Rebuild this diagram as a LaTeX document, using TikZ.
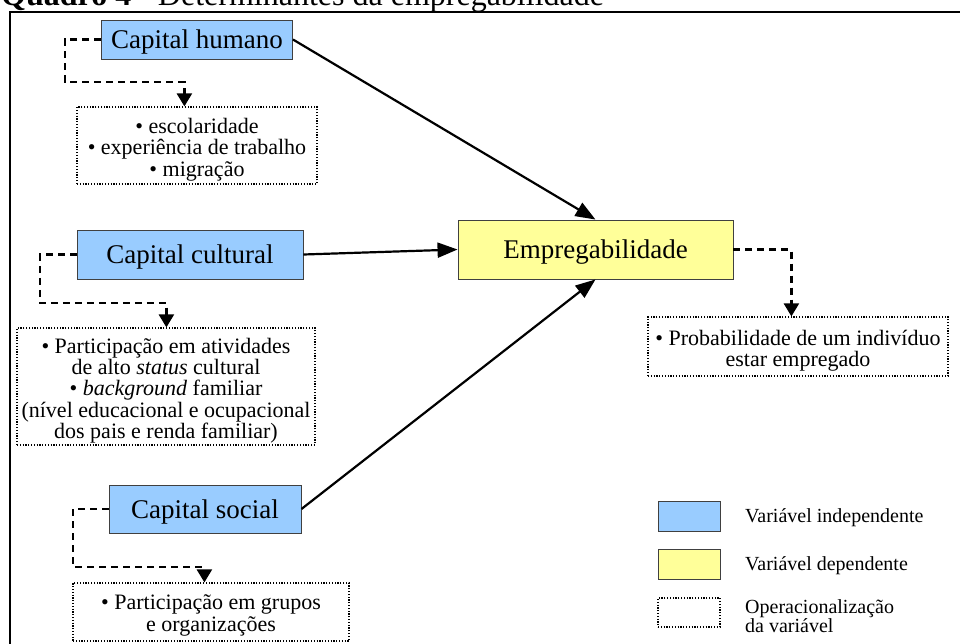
\documentclass[tikz,border=0pt]{standalone}
\usepackage{fontspec}
\setmainfont{Liberation Serif}
\usetikzlibrary{arrows.meta,calc}
\definecolor{bluebox}{HTML}{99CCFF}
\definecolor{yellowbox}{HTML}{FFFF99}
\definecolor{boxline}{HTML}{404040}
\begin{document}
\begin{tikzpicture}[x=1pt,y=-1pt,
  varbox/.style={draw=boxline,line width=0.9pt,inner sep=0pt,text depth=0pt,font=\fontsize{27}{32}\selectfont},
  indep/.style={varbox,fill=bluebox},
  dep/.style={varbox,fill=yellowbox},
  opbox/.style={draw=black,line width=1.2pt,dash pattern=on 1.2pt off 1.6pt,inner sep=0pt},
  optext/.style={inner sep=0pt,align=center,font=\fontsize{22}{21.4}\selectfont},
  cause/.style={line width=2.2pt,-{Triangle[length=20pt,width=15pt]}},
  oper/.style={line width=2.4pt,dash pattern=on 7pt off 5pt,-{Triangle[length=13pt,width=15pt]}},
  legtext/.style={anchor=west,inner sep=0pt,align=left,font=\fontsize{20}{19}\selectfont}]
\useasboundingbox (0,0) rectangle (960,643);
\fill[white] (0,0) rectangle (960,643);
% frame and title
\draw[line width=1.6pt] (10,646) -- (10,12) -- (964,12);
\node[anchor=base west,inner sep=0pt,font=\fontsize{32}{38}\selectfont] (title) at (1,5.5) {\textbf{Quadro 4} - Determinantes da empregabilidade};
% variables
\node[indep,minimum width=191pt,minimum height=39pt] (hum) at (197,39.5) {Capital humano};
\node[indep,minimum width=226pt,minimum height=49pt] (cul) at (190,254.5) {Capital cultural};
\node[indep,minimum width=192pt,minimum height=48pt] (soc) at (205,509) {Capital social};
\node[dep,minimum width=275pt,minimum height=59pt] (emp) at (595.5,249.5) {Empregabilidade};
% operationalisation boxes
\node[opbox,minimum width=240pt,minimum height=77pt] (op1) at (197,145.5) {};
\node[optext] (op1t) at ($(op1)+(0,4)$) {• escolaridade\\• experiência de trabalho\\• migração};
\node[opbox,minimum width=298pt,minimum height=117pt] (op2) at (166,386.5) {};
\node[optext] (op2t) at ($(op2)+(0,4)$) {• Participação em atividades\\de alto \textit{status} cultural\\• \textit{background} familiar\\(nível educacional e ocupacional\\dos pais e renda familiar)};
\node[opbox,minimum width=276pt,minimum height=58pt] (op3) at (211,612) {};
\node[optext] (op3t) at ($(op3)+(0,3.5)$) {• Participação em grupos\\e organizações};
\node[opbox,minimum width=300pt,minimum height=59pt] (op4) at (798,346.5) {};
\node[optext] (op4t) at ($(op4)+(0,4)$) {• Probabilidade de um indivíduo\\estar empregado};
% causal arrows
\draw[cause] (hum.east) -- (emp.north);
\draw[cause] (cul.east) -- (emp.west);
\draw[cause] (soc.east) -- (emp.south);
% operationalisation connectors
\draw[oper] (hum.west) -| (65,82) -| ($(op1.north west)+(108,0)$);
\draw[oper] (cul.west) -| (40,303) -| ($(op2.north west)+(150,0)$);
\draw[oper] (soc.west) -| (73,567) -| ($(op3.north west)+(132,0)$);
\draw[oper] (emp.east) -| ($(op4.north west)+(144,0)$);
% legend
\node[indep,minimum width=62pt,minimum height=30pt] (l1) at (689,516) {};
\node[dep,minimum width=62pt,minimum height=30pt] (l2) at (689,564) {};
\node[opbox,minimum width=62pt,minimum height=29pt] (l3) at (689,612.5) {};
\node[legtext] (t1) at (745,518) {Variável independente};
\node[legtext] (t2) at (745,566) {Variável dependente};
\node[legtext] (t3) at (745,616) {Operacionalização\\da variável};
\end{tikzpicture}
\end{document}
